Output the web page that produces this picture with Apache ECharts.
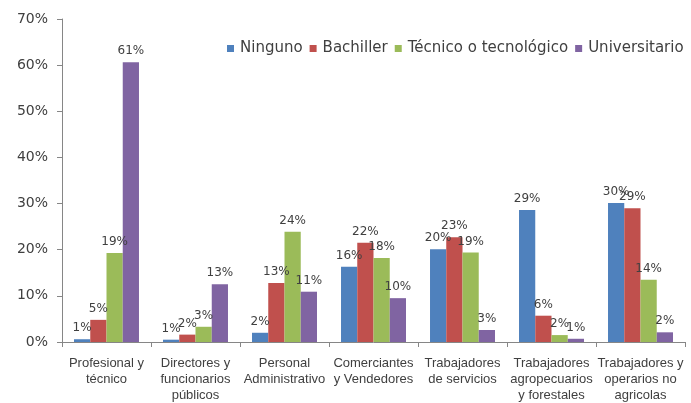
<!DOCTYPE html>
<html>
<head>
<meta charset="utf-8">
<script src="https://cdn.jsdelivr.net/npm/echarts@6/dist/echarts.min.js"></script>
<style>
  html, body { margin: 0; padding: 0; background: #ffffff; }
  #chart { width: 691px; height: 403px; }
</style>
</head>
<body>
<div id="chart"></div>
<script>
// Ocupaciones (eje de categorías)
const categories = [
  'Profesional y\ntécnico',
  'Directores y\nfuncionarios\npúblicos',
  'Personal\nAdministrativo',
  'Comerciantes\ny Vendedores',
  'Trabajadores\nde servicios',
  'Trabajadores\nagropecuarios\ny forestales',
  'Trabajadores y\noperarios no\nagricolas'
];

// Nivel educativo: porcentaje por ocupación
const ninguno       = [0.6, 0.5, 2.0, 16.3, 20.1, 28.6, 30.1];
const bachiller     = [4.8, 1.6, 12.8, 21.5, 22.7, 5.7, 29.0];
const tecnico       = [19.3, 3.3, 23.9, 18.2, 19.4, 1.5, 13.5];
const universitario = [60.6, 12.5, 10.9, 9.5, 2.6, 0.7, 2.1];

const seriesNames = ['Ninguno', 'Bachiller', 'Técnico o tecnológico', 'Universitario'];
const seriesData = [ninguno, bachiller, tecnico, universitario];
const colors = ['#4F81BD', '#C0504D', '#9BBB59', '#8064A2'];

// Marcas del eje vertical
const yMin = 0, yMax = 70, yStep = 10;

const textColor = '#404040';
const axisColor = '#868686';

const chart = echarts.init(document.getElementById('chart'));

chart.setOption({
  animation: false,
  backgroundColor: '#ffffff',
  color: colors,
  grid: { left: 62, right: 6, top: 19, bottom: 61, containLabel: false },
  legend: {
    data: seriesNames,
    left: 227,
    top: 41,
    width: 520,
    padding: 0,
    itemGap: 7,
    itemWidth: 7,
    itemHeight: 7,
    icon: 'rect',
    textStyle: {
      fontFamily: 'DejaVu Sans',
      fontSize: 15,
      color: textColor,
      padding: [0, 0, 0, 1]
    }
  },
  xAxis: {
    type: 'category',
    data: categories,
    axisLine: { lineStyle: { color: axisColor, width: 1 } },
    axisTick: { show: true, alignWithLabel: false, length: 5, lineStyle: { color: axisColor } },
    axisLabel: {
      interval: 0,
      margin: 13,
      fontFamily: 'Liberation Sans',
      fontSize: 13,
      lineHeight: 16,
      color: textColor
    }
  },
  yAxis: {
    type: 'value',
    min: yMin,
    max: yMax,
    interval: yStep,
    splitLine: { show: false },
    axisLine: { show: true, lineStyle: { color: axisColor, width: 1 } },
    axisTick: { show: true, length: 5, lineStyle: { color: axisColor } },
    axisLabel: {
      formatter: '{value}%',
      margin: 14,
      fontFamily: 'DejaVu Sans',
      fontSize: 14,
      color: textColor
    }
  },
  series: seriesData.map((values, i) => ({
    name: seriesNames[i],
    type: 'bar',
    data: values,
    barGap: '0%',
    barCategoryGap: '27%',
    itemStyle: { color: colors[i] },
    label: {
      show: true,
      position: 'top',
      distance: 5,
      formatter: p => Math.round(p.value) + '%',
      fontFamily: 'DejaVu Sans',
      fontSize: 12,
      color: textColor
    }
  }))
});
</script>
</body>
</html>
